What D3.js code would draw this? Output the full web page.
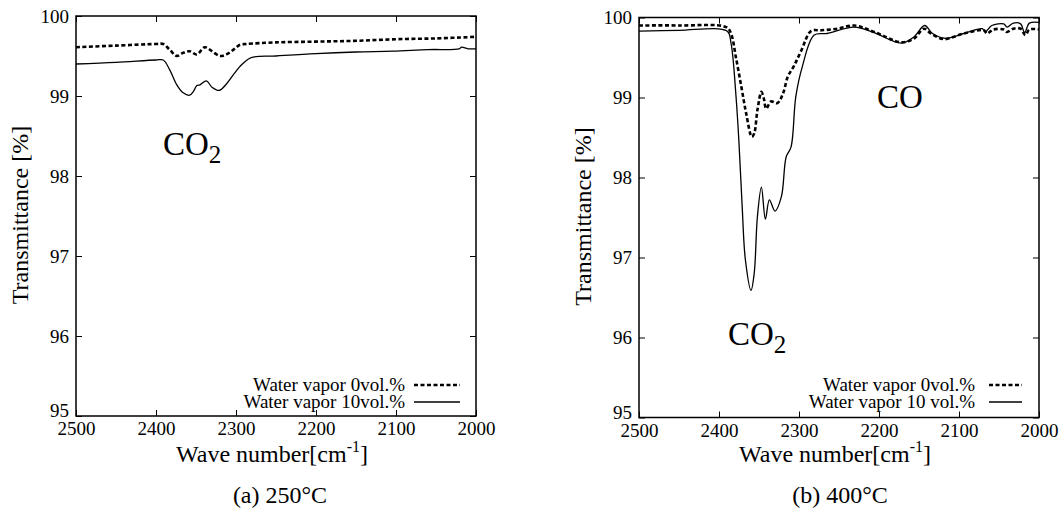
<!DOCTYPE html>
<html><head><meta charset="utf-8">
<script src="https://cdn.jsdelivr.net/npm/d3@7"></script>
<style>body{margin:0;background:#fff}svg{display:block}text{font-family:"Liberation Serif","Times New Roman",serif;fill:#000}</style>
</head><body>
<script>
const xTicks = [2500, 2400, 2300, 2200, 2100, 2000];
const yTicks = [95, 96, 97, 98, 99, 100];

// (a) 250°C
const wnA0 = [2500, 2450, 2400, 2391, 2383, 2374, 2366, 2358, 2349, 2339, 2330, 2320, 2312, 2303, 2295, 2287, 2250, 2200, 2150, 2100, 2050, 2000];
const valA0 = [99.61, 99.63, 99.65, 99.65, 99.58, 99.50, 99.54, 99.56, 99.52, 99.61, 99.56, 99.50, 99.52, 99.58, 99.64, 99.65, 99.67, 99.68, 99.69, 99.71, 99.72, 99.74];
const wnA10 = [2500, 2450, 2400, 2391, 2383, 2374, 2366, 2358, 2353, 2349, 2345, 2337, 2330, 2321, 2312, 2303, 2293, 2281, 2250, 2200, 2150, 2104, 2060, 2021, 2018, 2010, 2000];
const valA10 = [99.40, 99.42, 99.45, 99.45, 99.33, 99.14, 99.04, 99.01, 99.06, 99.13, 99.14, 99.19, 99.11, 99.07, 99.15, 99.27, 99.39, 99.48, 99.50, 99.53, 99.55, 99.56, 99.58, 99.59, 99.61, 99.59, 99.59];

// (b) 400°C
const wnB0 = [2500, 2450, 2391, 2385, 2379, 2372, 2366, 2359, 2356, 2352, 2347, 2344, 2341, 2335, 2327, 2320, 2314, 2306, 2297, 2285, 2272, 2252, 2231, 2206, 2172, 2156, 2144, 2135, 2119, 2094, 2069, 2065, 2057, 2044, 2040, 2032, 2023, 2017, 2012, 2000];
const valB0 = [99.90, 99.90, 99.88, 99.80, 99.51, 99.13, 98.80, 98.51, 98.55, 98.84, 99.07, 98.99, 98.86, 98.95, 98.93, 99.05, 99.26, 99.40, 99.59, 99.83, 99.84, 99.86, 99.90, 99.82, 99.69, 99.74, 99.86, 99.80, 99.73, 99.80, 99.84, 99.80, 99.85, 99.85, 99.82, 99.86, 99.86, 99.78, 99.85, 99.85];
const wnB10 = [2500, 2450, 2390, 2385, 2379, 2375, 2371, 2367, 2360, 2356, 2352, 2347, 2342, 2337, 2330, 2322, 2316, 2310, 2304, 2296, 2281, 2265, 2231, 2206, 2172, 2156, 2143, 2133, 2117, 2094, 2071, 2067, 2059, 2044, 2040, 2032, 2023, 2018, 2012, 2000];
const valB10 = [99.83, 99.84, 99.83, 99.68, 99.05, 98.43, 97.63, 96.97, 96.59, 96.80, 97.51, 97.88, 97.48, 97.72, 97.58, 97.76, 98.26, 98.38, 99.01, 99.38, 99.78, 99.80, 99.88, 99.81, 99.68, 99.76, 99.90, 99.80, 99.74, 99.80, 99.86, 99.82, 99.90, 99.92, 99.88, 99.93, 99.92, 99.81, 99.93, 99.94];

const legendA = ["Water vapor 0vol.%", "Water vapor 10vol.%"];
const legendB = ["Water vapor 0vol.%", "Water vapor 10 vol.%"];
const captions = ["(a) 250°C", "(b) 400°C"];
const yTitle = "Transmittance [%]";

const svg = d3.select("body").append("svg").attr("width", 1062).attr("height", 516);

function panel(cfg) {
  const x = d3.scaleLinear().domain([2500, 2000]).range([cfg.left, cfg.left + 400]);
  const y = d3.scaleLinear().domain([95, 100]).range([cfg.top + 400, cfg.top]);
  const g = svg.append("g");
  const tl = 6;
  const axB = d3.axisBottom(x).tickValues(xTicks).tickSize(-tl).tickFormat(d3.format("d"));
  const axT = d3.axisTop(x).tickValues(xTicks).tickSize(-tl).tickFormat("");
  const axL = d3.axisLeft(y).tickValues(yTicks).tickSize(-tl).tickFormat(d3.format("d"));
  const axR = d3.axisRight(y).tickValues(yTicks).tickSize(-tl).tickFormat("");
  const gb = g.append("g").attr("transform", `translate(0,${y(95)})`).call(axB);
  g.append("g").attr("transform", `translate(0,${y(100)})`).call(axT);
  const gl = g.append("g").attr("transform", `translate(${x(2500)},0)`).call(axL);
  g.append("g").attr("transform", `translate(${x(2000)},0)`).call(axR);
  g.selectAll(".domain").remove();
  g.selectAll(".tick line").attr("stroke", "#000").attr("stroke-width", 1);
  gb.selectAll(".tick text").attr("font-size", 19).attr("y", 6).attr("dy", "0.71em");
  gl.selectAll(".tick text").attr("font-size", 19).attr("x", -7).attr("dy", d => d === 95 ? "0.05em" : "0.32em");
  g.selectAll(".tick text").attr("font-family", '"Liberation Serif",serif').attr("fill", "#000");
  g.append("rect").attr("x", x(2500)).attr("y", y(100)).attr("width", x(2000) - x(2500)).attr("height", y(95) - y(100))
    .attr("fill", "none").attr("stroke", "#000").attr("stroke-width", 1.5);

  const line = d3.line().x(d => x(d[0])).y(d => y(d[1])).curve(d3.curveCatmullRom.alpha(0.5));
  g.append("path").datum(d3.zip(cfg.wn10, cfg.val10)).attr("d", line)
    .attr("fill", "none").attr("stroke", "#000").attr("stroke-width", 1.3);
  g.append("path").datum(d3.zip(cfg.wn0, cfg.val0)).attr("d", line)
    .attr("fill", "none").attr("stroke", "#000").attr("stroke-width", 2.6).attr("stroke-dasharray", "4,2.5");

  g.append("text").attr("transform", `translate(${cfg.left - 48},${cfg.top + 199}) rotate(-90)`)
    .attr("text-anchor", "middle").attr("font-size", 24).text(yTitle);
  const xt = g.append("text").attr("x", cfg.left + 196).attr("y", 462).attr("text-anchor", "middle").attr("font-size", 24);
  xt.append("tspan").text("Wave number[cm");
  xt.append("tspan").attr("font-size", 16).attr("dy", -10).text("-1");
  xt.append("tspan").attr("dy", 10).text("]");

  const lg = g.append("g");
  cfg.legend.forEach((t, i) => {
    const ly = 385 + i * 17;
    lg.append("text").attr("x", cfg.legTextX).attr("y", ly + 6).attr("text-anchor", "end").attr("font-size", 19).text(t);
    lg.append("line").attr("x1", cfg.legX1).attr("x2", cfg.legX2).attr("y1", ly).attr("y2", ly)
      .attr("stroke", "#000").attr("stroke-width", i === 0 ? 2.6 : 1.3).attr("stroke-dasharray", i === 0 ? "4,2.5" : null);
  });

  g.append("text").attr("x", cfg.capX).attr("y", 503).attr("text-anchor", "middle").attr("font-size", 24).text(cfg.caption);
  return {x, y, g};
}

function co2(g, px, py) {
  const t = g.append("text").attr("x", px).attr("y", py).attr("font-size", 33);
  t.append("tspan").text("CO");
  t.append("tspan").attr("font-size", 25).attr("dy", 8).text("2");
}

const pa = panel({left: 76, top: 16, wn0: wnA0, val0: valA0, wn10: wnA10, val10: valA10, legend: legendA, legTextX: 405, legX1: 414, legX2: 460, caption: captions[0], capX: 280});
co2(pa.g, 163, 155);
const pb = panel({left: 639, top: 17.5, wn0: wnB0, val0: valB0, wn10: wnB10, val10: valB10, legend: legendB, legTextX: 975, legX1: 989, legX2: 1022, caption: captions[1], capX: 840});
co2(pb.g, 728, 345);
pb.g.append("text").attr("x", 877).attr("y", 108).attr("font-size", 33).text("CO");
</script>
</body></html>
